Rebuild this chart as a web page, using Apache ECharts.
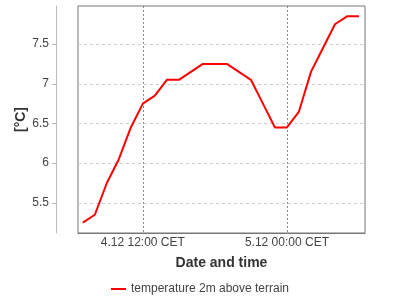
<!DOCTYPE html>
<html>
<head>
<meta charset="utf-8">
<script src="https://cdn.jsdelivr.net/npm/echarts@6/dist/echarts.min.js"></script>
<style>html,body{margin:0;padding:0;background:#fff;}#c{width:400px;height:300px;}</style>
</head>
<body>
<div id="c"></div>
<script>
// hours since 4.12 00:00 CET
var hours = [7,8,9,10,11,12,13,14,15,16,17,18,19,20,21,22,23,24,25,26,27,28,29,30];
var temps = [5.25,5.35,5.75,6.05,6.45,6.75,6.85,7.05,7.05,7.15,7.25,7.25,7.25,7.15,7.05,6.75,6.45,6.45,6.65,7.15,7.45,7.75,7.85,7.85];
var xTickValues = [12, 24];
var xTickLabels = ['4.12 12:00 CET', '5.12 00:00 CET'];
var yTickValues = [5.5, 6, 6.5, 7, 7.5];
var seriesName = 'temperature 2m above terrain';

var data = hours.map(function (h, i) { return [h, temps[i]]; });
var font = 'Liberation Sans, Arial, sans-serif';

var chart = echarts.init(document.getElementById('c'), null, { renderer: 'canvas' });
chart.setOption({
  animation: false,
  backgroundColor: '#fff',
  textStyle: { fontFamily: font },
  grid: {
    left: 78, right: 35, top: 6, bottom: 67,
    show: true, borderColor: '#777', borderWidth: 1, backgroundColor: 'transparent'
  },
  xAxis: {
    type: 'value',
    min: 6.6,
    max: 30.5,
    name: 'Date and time',
    nameLocation: 'middle',
    nameGap: 23,
    nameMoveOverlap: false,
    nameTextStyle: { fontFamily: font, fontSize: 14, fontWeight: 'bold', color: '#333' },
    axisLine: { show: true, lineStyle: { color: '#777', width: 1 } },
    axisTick: { show: false, customValues: xTickValues },
    axisLabel: {
      customValues: xTickValues,
      margin: 4,
      fontFamily: font, fontSize: 12, color: '#444',
      formatter: function (v) { return xTickLabels[xTickValues.indexOf(v)]; }
    },
    splitLine: { show: true, lineStyle: { color: '#888', type: [2, 2], width: 1 } }
  },
  yAxis: {
    type: 'value',
    min: 5.12,
    max: 7.98,
    offset: 22,
    name: '[°C]',
    nameLocation: 'middle',
    nameGap: 28,
    nameMoveOverlap: false,
    nameTextStyle: { fontFamily: font, fontSize: 14, fontWeight: 'bold', color: '#333' },
    axisLine: { show: true, lineStyle: { color: '#bbb', width: 1 } },
    axisTick: { show: true, customValues: yTickValues, length: 4, lineStyle: { color: '#bbb' } },
    axisLabel: {
      customValues: yTickValues,
      margin: 7,
      fontFamily: font, fontSize: 12, color: '#444'
    },
    splitLine: { show: true, lineStyle: { color: '#ccc', type: [3, 3], width: 1 } }
  },
  legend: {
    show: true,
    left: 'center',
    top: 278,
    itemWidth: 15,
    itemHeight: 2,
    itemGap: 10,
    icon: 'rect',
    textStyle: { fontFamily: font, fontSize: 12, color: '#444' },
    data: [seriesName]
  },
  series: [{
    name: seriesName,
    type: 'line',
    data: data,
    symbol: 'none',
    lineStyle: { color: '#ff0000', width: 2 },
    itemStyle: { color: '#ff0000' }
  }]
});
</script>
</body>
</html>
